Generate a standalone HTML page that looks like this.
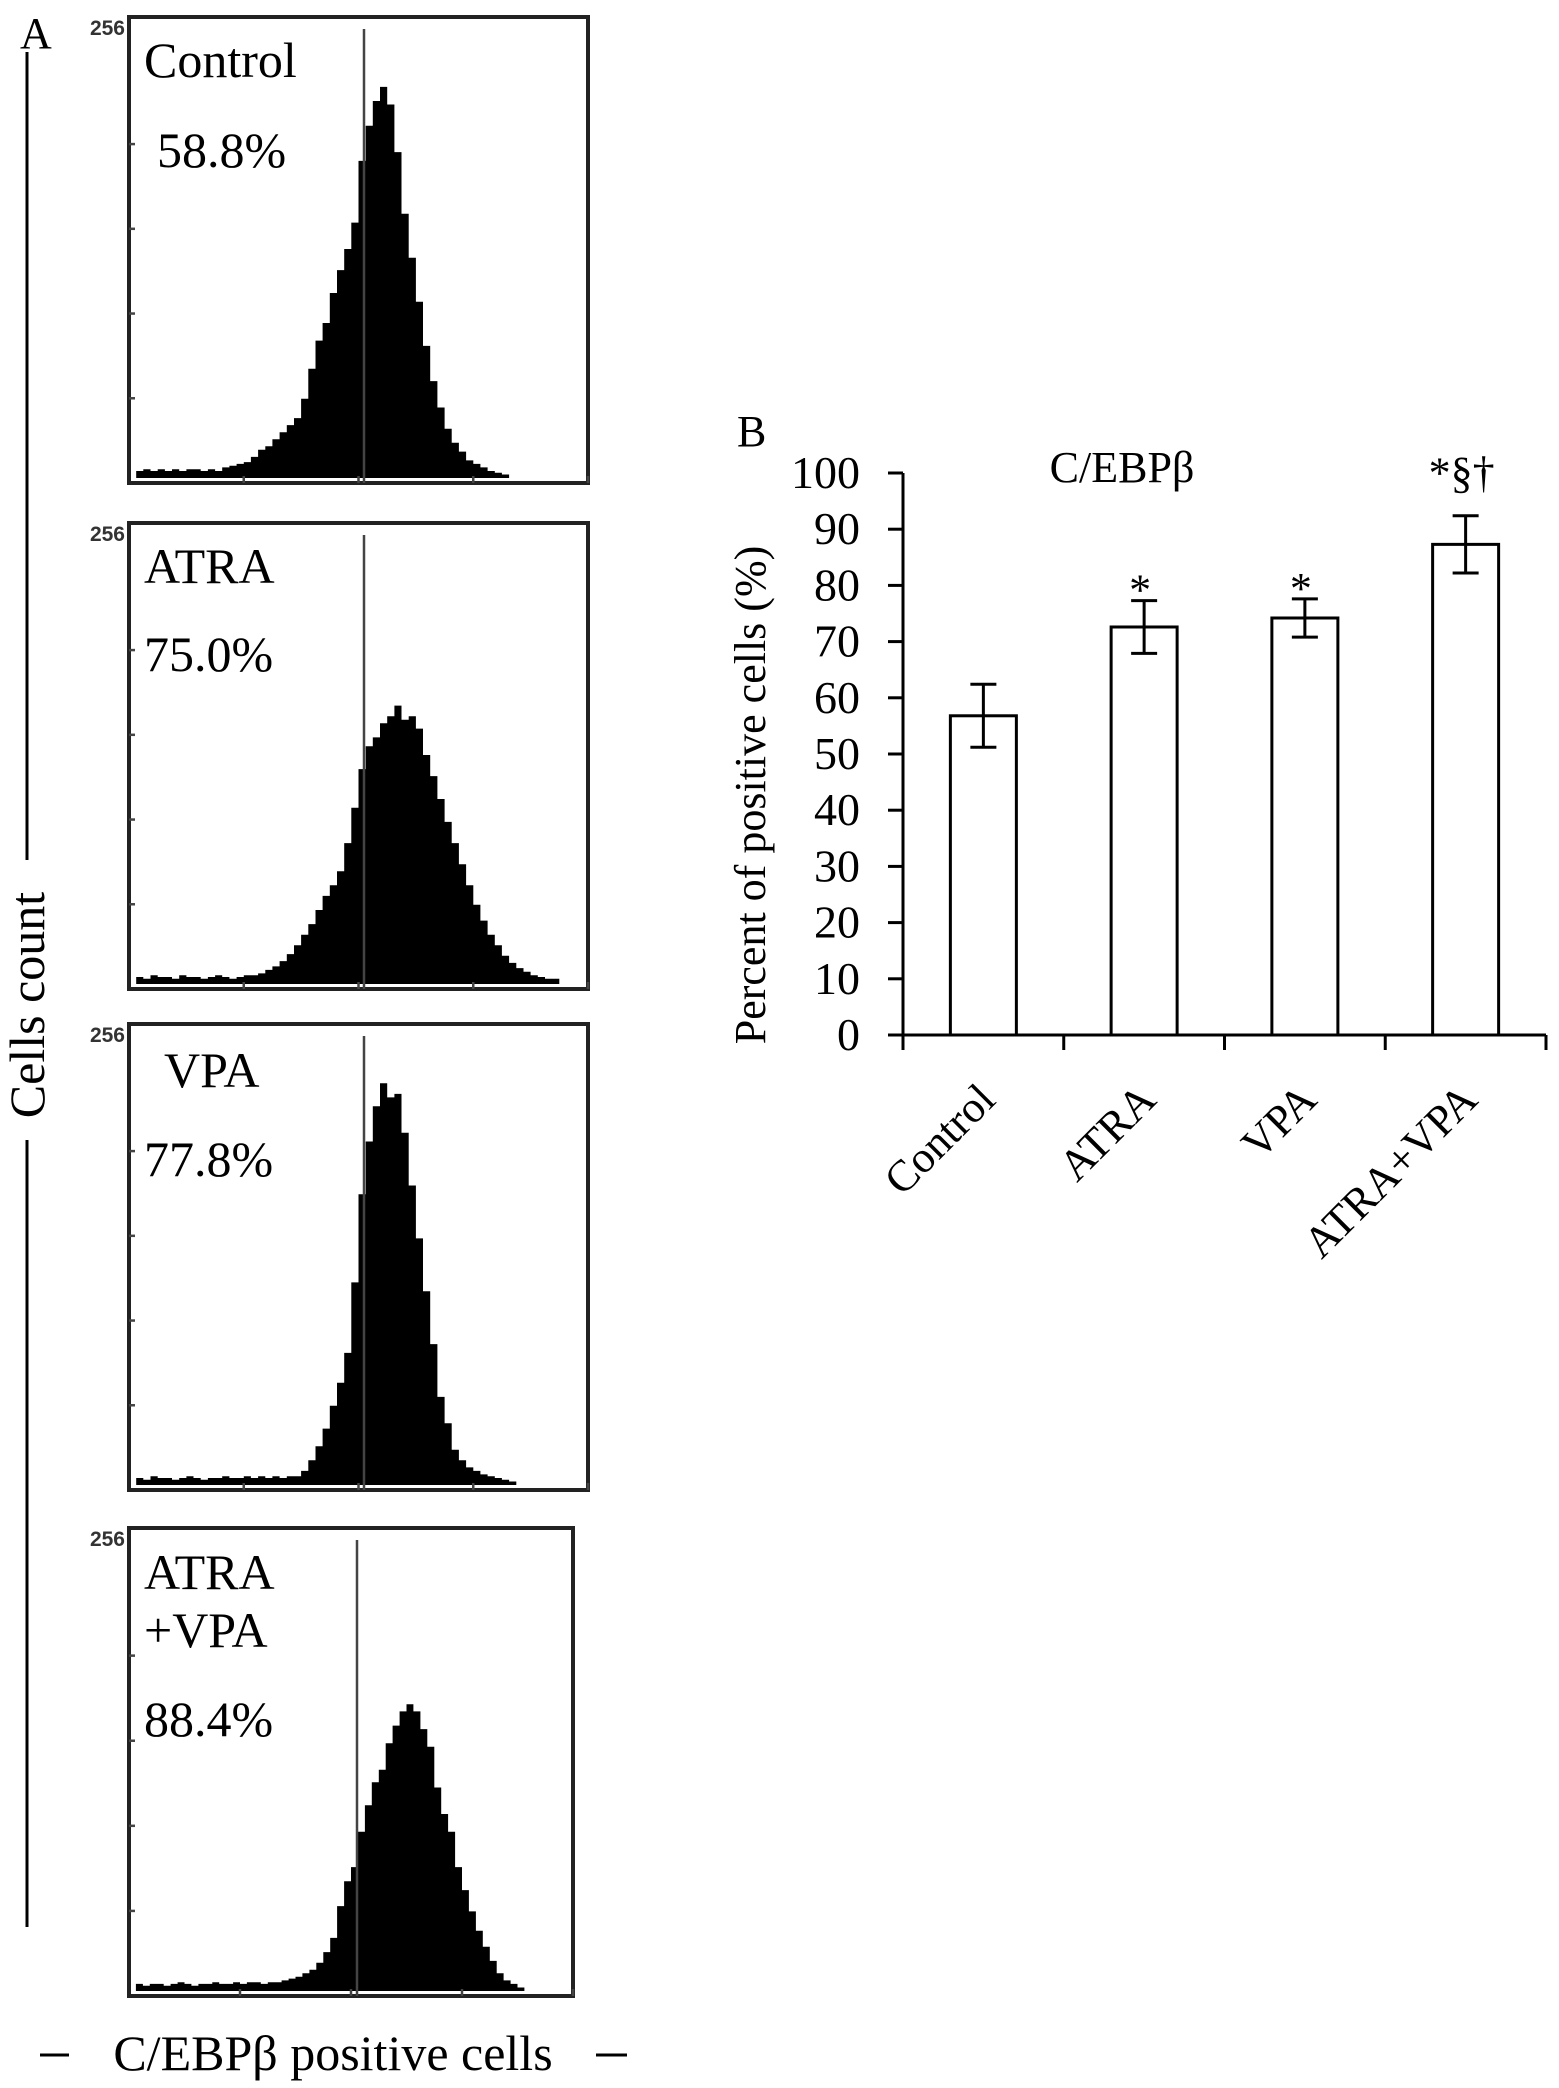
<!DOCTYPE html>
<html><head><meta charset="utf-8"><style>
html,body{margin:0;padding:0;background:#fff}
svg{display:block}
text{font-family:"Liberation Serif","DejaVu Serif",serif;fill:#000}
</style></head><body>
<svg id="fig" width="1559" height="2088" viewBox="0 0 1559 2088" xmlns="http://www.w3.org/2000/svg" font-family="Liberation Serif, DejaVu Serif, serif">
<text x="20" y="48" font-size="44" font-family="Liberation Serif, serif">A</text>
<line x1="27" y1="52" x2="27" y2="860" stroke="#000" stroke-width="3"/>
<text transform="translate(44,1005) rotate(-90)" text-anchor="middle" font-size="50" font-family="Liberation Serif, serif">Cells count</text>
<line x1="27" y1="1140" x2="27" y2="1927" stroke="#000" stroke-width="3"/>
<line x1="40" y1="2055" x2="69" y2="2055" stroke="#000" stroke-width="3"/>
<text x="333" y="2070" text-anchor="middle" font-size="50" font-family="Liberation Serif, serif">C/EBPβ positive cells</text>
<line x1="596" y1="2055" x2="627" y2="2055" stroke="#000" stroke-width="3"/>
<g id="hists"></g>
<text x="737" y="446" font-size="44" font-family="Liberation Serif, serif">B</text>
<text x="1122" y="482" text-anchor="middle" font-size="44" font-family="Liberation Serif, serif">C/EBPβ</text>
<text transform="translate(765,795) rotate(-90)" text-anchor="middle" font-size="44" font-family="Liberation Serif, serif">Percent of positive cells (%)</text>
<g id="barchart"></g>
</svg>
<script>
// Bar chart data
const categories = ["Control","ATRA","VPA","ATRA+VPA"];
const means = [56.8, 72.6, 74.2, 87.3];
const errors = [5.6, 4.7, 3.4, 5.1];
const marks = ["", "*", "*", "*§†"];
const yTicks = [0,10,20,30,40,50,60,70,80,90,100];

// Histogram data (counts, 0-256 scale, 64 bins)
const histControl = [0,4,5,4,5,4,5,4,5,5,4,5,4,6,7,8,9,12,16,18,22,26,30,34,45,62,78,88,105,118,130,145,180,200,214,222,212,185,150,125,100,75,55,40,28,20,15,10,8,6,4,3,2,0,0,0,0,0,0,0,0,0,0,0];
const histATRA = [0,4,3,5,4,4,3,5,4,4,3,4,5,4,3,4,5,5,6,8,10,13,17,22,28,34,42,50,56,64,80,100,122,135,140,148,152,158,150,152,145,130,118,105,92,80,68,56,45,36,28,22,16,12,9,7,5,4,3,3,0,0,0,0];
const histVPA = [0,4,3,5,4,4,3,4,5,4,3,4,4,5,4,4,5,4,5,4,5,4,5,5,8,14,22,32,45,58,75,115,165,195,215,228,220,222,200,170,140,110,80,50,35,20,14,10,8,6,5,4,3,2,0,0,0,0,0,0,0,0,0,0];
const histCombo = [0,4,3,4,4,3,4,5,4,3,4,4,5,4,4,5,4,5,5,4,5,5,6,7,8,10,12,16,22,30,48,62,70,90,105,118,125,140,150,158,162,158,148,138,115,100,90,70,57,45,34,25,17,10,6,4,2,0,0,0,0,0,0,0];

const NS = "http://www.w3.org/2000/svg";
function mk(tag, attrs, parent){ const e=document.createElementNS(NS,tag); for(const k in attrs) e.setAttribute(k,attrs[k]); parent.appendChild(e); return e; }
const SERIF = "Liberation Serif, serif";

// ---- Histograms ----
const panels = [
  {data:histControl, x0:129, x1:588, y0:17, y1:483, gate:364, labels:[["Control",144,77],["58.8%",157,167]], name:"control"},
  {data:histATRA, x0:129, x1:588, y0:523, y1:989, gate:364, labels:[["ATRA",144,583],["75.0%",144,671]], name:"atra"},
  {data:histVPA, x0:129, x1:588, y0:1024, y1:1490, gate:364, labels:[["VPA",164,1087],["77.8%",144,1176]], name:"vpa"},
  {data:histCombo, x0:129, x1:573, y0:1528, y1:1996, gate:357, labels:[["ATRA",144,1589],["+VPA",144,1647],["88.4%",144,1736]], name:"atra-vpa"}
];
const hg = document.getElementById('hists');
panels.forEach(p=>{
  const g = mk('g',{},hg);
  
  
  const top = p.y0 + 10, base = p.y1 - 5;
  const yS = v => base - v/256*(base-top);
  const n = p.data.length, bw = (p.x1-p.x0)/n;
  let d = "M"+p.x0+","+base;
  p.data.forEach((v,i)=>{ const xa=p.x0+i*bw, xb=xa+bw, y=yS(v); d+=" L"+xa.toFixed(1)+","+y.toFixed(1)+" L"+xb.toFixed(1)+","+y.toFixed(1); });
  d += " L"+p.x1+","+base+" Z";
  const path = mk('path',{d:d, fill:"#000"},g);
  
  
  const box = mk('rect',{x:p.x0,y:p.y0,width:p.x1-p.x0,height:p.y1-p.y0,fill:"none",stroke:"#222","stroke-width":4},g);
  
  
  const gl = mk('line',{x1:p.gate,y1:p.y0+12,x2:p.gate,y2:p.y1,stroke:"#444","stroke-width":2.5},g);
  
  
  for(let k=1;k<5;k++){
    mk('line',{x1:p.x0,y1:p.y1-(k)*(p.y1-p.y0)/5.5,x2:p.x0+6,y2:p.y1-(k)*(p.y1-p.y0)/5.5,stroke:"#444","stroke-width":2.5},g);
    const tx = p.x0 + k*(p.x1-p.x0)/4;
    mk('line',{x1:tx,y1:p.y1,x2:tx,y2:p.y1-7,stroke:"#444","stroke-width":2.5},g);
  }
  const l256 = mk('text',{x:p.x0-4,y:p.y0+18,"text-anchor":"end","font-size":21,"font-weight":"bold","font-family":"Liberation Sans, sans-serif",style:"font-family:'Liberation Sans',sans-serif;fill:#333"},g);
  l256.textContent = "256";
  
  
  p.labels.forEach(L=>{
    const t = mk('text',{x:L[1],y:L[2],"font-size":50,"font-family":SERIF},g);
    t.textContent = L[0];
    
    
  });
});

// ---- Bar chart ----
const bc = document.getElementById('barchart');
const X0=903, X1=1546, Y0=1035, Y100=473;
const yScale = v => Y0 - v/100*(Y0-Y100);
const catW = (X1-X0)/categories.length;
const xCenter = i => X0 + catW*(i+0.5);
const barW = 66;
const ax = mk('path',{d:"M"+X0+","+Y100+" L"+X0+","+Y0+" L"+X1+","+Y0,fill:"none",stroke:"#000","stroke-width":3},bc);


yTicks.forEach(t=>{
  const y=yScale(t);
  const tk = mk('line',{x1:X0-15,y1:y,x2:X0,y2:y,stroke:"#000","stroke-width":3},bc);
  
  
  const lb = mk('text',{x:860,y:y+15,"text-anchor":"end","font-size":46,"font-family":SERIF},bc);
  lb.textContent = String(t);
  
  
});
for(let i=0;i<=categories.length;i++){
  const x=X0+catW*i;
  const tk = mk('line',{x1:x,y1:Y0,x2:x,y2:Y0+15,stroke:"#000","stroke-width":3},bc);
  
  
}
categories.forEach((c,i)=>{
  const cx=xCenter(i), yt=yScale(means[i]);
  const r = mk('rect',{x:cx-barW/2,y:yt,width:barW,height:Y0-yt,fill:"#fff",stroke:"#000","stroke-width":3},bc);
  
  
  const eh=yScale(means[i]+errors[i]), el=yScale(means[i]-errors[i]);
  const eb = mk('path',{d:"M"+cx+","+eh+" L"+cx+","+el+" M"+(cx-13)+","+eh+" L"+(cx+13)+","+eh+" M"+(cx-13)+","+el+" L"+(cx+13)+","+el,stroke:"#000","stroke-width":3,fill:"none"},bc);
  
  
  if(marks[i]){
    const m = mk('text',{x:cx-4,y: marks[i].length>1 ? eh-28 : eh+4,"text-anchor":"middle","font-size":44,"font-family":SERIF},bc);
    m.textContent = marks[i];
    
    
  }
  const xl = mk('text',{transform:"translate("+(cx+14)+",1102) rotate(-45)","text-anchor":"end","font-size":44,"font-family":SERIF},bc);
  xl.textContent = c;
  
  
});
</script>
</body></html>
